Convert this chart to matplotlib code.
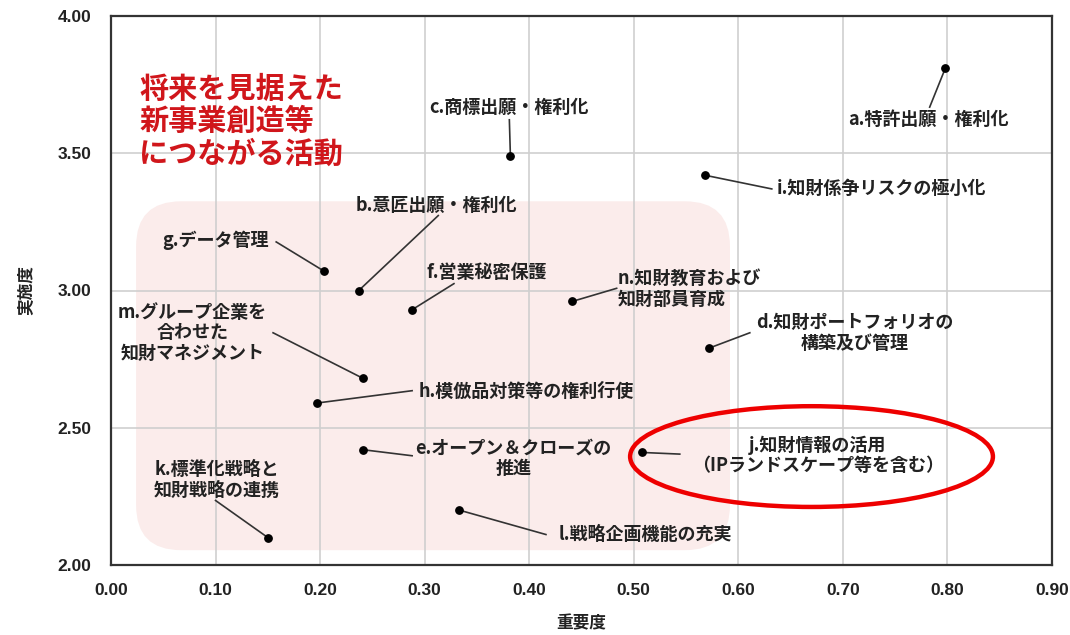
import matplotlib
matplotlib.use("Agg")
import matplotlib.pyplot as plt
from matplotlib.patches import FancyBboxPatch, Ellipse

plt.rcParams['font.family'] = ['Noto Sans CJK JP', 'DejaVu Sans']

# 施策ごとの重要度・実施度
labels = ['a.特許出願・権利化', 'b.意匠出願・権利化', 'c.商標出願・権利化',
          'd.知財ポートフォリオの\n構築及び管理', 'e.オープン＆クローズの\n推進',
          'f.営業秘密保護', 'g.データ管理', 'h.模倣品対策等の権利行使',
          'i.知財係争リスクの極小化', 'j.知財情報の活用\n（IPランドスケープ等を含む）',
          'k.標準化戦略と\n知財戦略の連携', 'l.戦略企画機能の充実',
          'm.グループ企業を\n合わせた\n知財マネジメント', 'n.知財教育および\n知財部員育成']
importance = [0.798, 0.237, 0.382, 0.572, 0.241, 0.288, 0.204, 0.197,
              0.568, 0.508, 0.150, 0.333, 0.241, 0.441]
implementation = [3.81, 3.00, 3.49, 2.79, 2.42, 2.93, 3.07, 2.59,
                  3.42, 2.41, 2.10, 2.20, 2.68, 2.96]

x_ticks = [0.0, 0.1, 0.2, 0.3, 0.4, 0.5, 0.6, 0.7, 0.8, 0.9]
y_ticks = [2.0, 2.5, 3.0, 3.5, 4.0]

# ラベル位置 (x, y, 揃え) と引き出し線の終点
label_pos = [(0.782, 3.624, 'center'), (0.311, 3.310, 'center'), (0.381, 3.668, 'center'),
             (0.711, 2.846, 'center'), (0.385, 2.390, 'center'), (0.302, 3.067, 'left'),
             (0.151, 3.183, 'right'), (0.294, 2.633, 'left'), (0.637, 3.373, 'left'),
             (0.676, 2.400, 'center'), (0.101, 2.310, 'center'), (0.4285, 2.111, 'left'),
             (0.078, 2.846, 'center'), (0.485, 3.006, 'left')]
line_end = [(0.783, 3.668), (0.313, 3.273), (0.381, 3.622), (0.611, 2.846),
            (0.288, 2.398), (0.328, 3.025), (0.158, 3.177), (0.288, 2.635),
            (0.632, 3.370), (0.544, 2.404), (0.100, 2.235), (0.416, 2.111),
            (0.155, 2.846), (0.4836, 3.008)]

fig = plt.figure(figsize=(10.7, 6.35), dpi=100)
ax = fig.add_axes([111 / 1070, 1 - 565 / 635, 941 / 1070, 549 / 635])
ax.set_xlim(0, 0.9)
ax.set_ylim(2.0, 4.0)
ax.set_xticks(x_ticks)
ax.set_yticks(y_ticks)
ax.set_xticklabels([f'{v:.2f}' for v in x_ticks])
ax.set_yticklabels([f'{v:.2f}' for v in y_ticks])
for t in ax.get_xticklabels() + ax.get_yticklabels():
    t.set_family('Liberation Sans')
    t.set_fontweight('bold')
    t.set_fontsize(12.5)
    t.set_color('#222222')
ax.tick_params(length=0)
ax.tick_params(axis='x', pad=13)
ax.tick_params(axis='y', pad=14)

ax.set_axisbelow(True)
ax.grid(True, color='#cfcfcf', linewidth=1.2)
for s in ax.spines.values():
    s.set_linewidth(1.6)
    s.set_color('#333333')

ax.set_xlabel('重要度', fontsize=12, fontweight='bold', labelpad=12, color='#222222')
ax.set_ylabel('実施度', fontsize=12, fontweight='bold', labelpad=16, color='#222222')

# 薄いピンクの角丸背景（縦横の比を合わせて角を円くする）
x_per_px = 0.9 / 941
y_per_px = 2.0 / 549
r_px = 45
box = FancyBboxPatch((0.024, 2.054), 0.592 - 0.024, 3.325 - 2.054,
                     boxstyle=f'round,pad=0,rounding_size={r_px * x_per_px}',
                     mutation_aspect=y_per_px / x_per_px,
                     facecolor='#fbeceb', edgecolor='none', zorder=0.2)
ax.add_patch(box)

ax.text(0.027, 3.616, '将来を見据えた\n新事業創造等\nにつながる活動', fontsize=21,
        fontweight='bold', color='#d0161b', ha='left', va='center', linespacing=1.1)

for lab, x, y, (tx, ty, ha), (ex, ey) in zip(labels, importance, implementation,
                                               label_pos, line_end):
    ax.plot([x, ex], [y, ey], color='#333333', linewidth=1.2, zorder=3)
    ax.text(tx, ty, lab, fontsize=13, fontweight='bold', color='#222222',
            ha=ha, va='center', multialignment=ha, linespacing=1.1, zorder=4)

ax.scatter(importance, implementation, s=28, color='black', zorder=5)

ax.add_patch(Ellipse((0.670, 2.395), 0.347, 0.367, fill=False,
                     edgecolor='#ee0000', linewidth=3.2, zorder=6))

fig.savefig('out.png', dpi=100)
